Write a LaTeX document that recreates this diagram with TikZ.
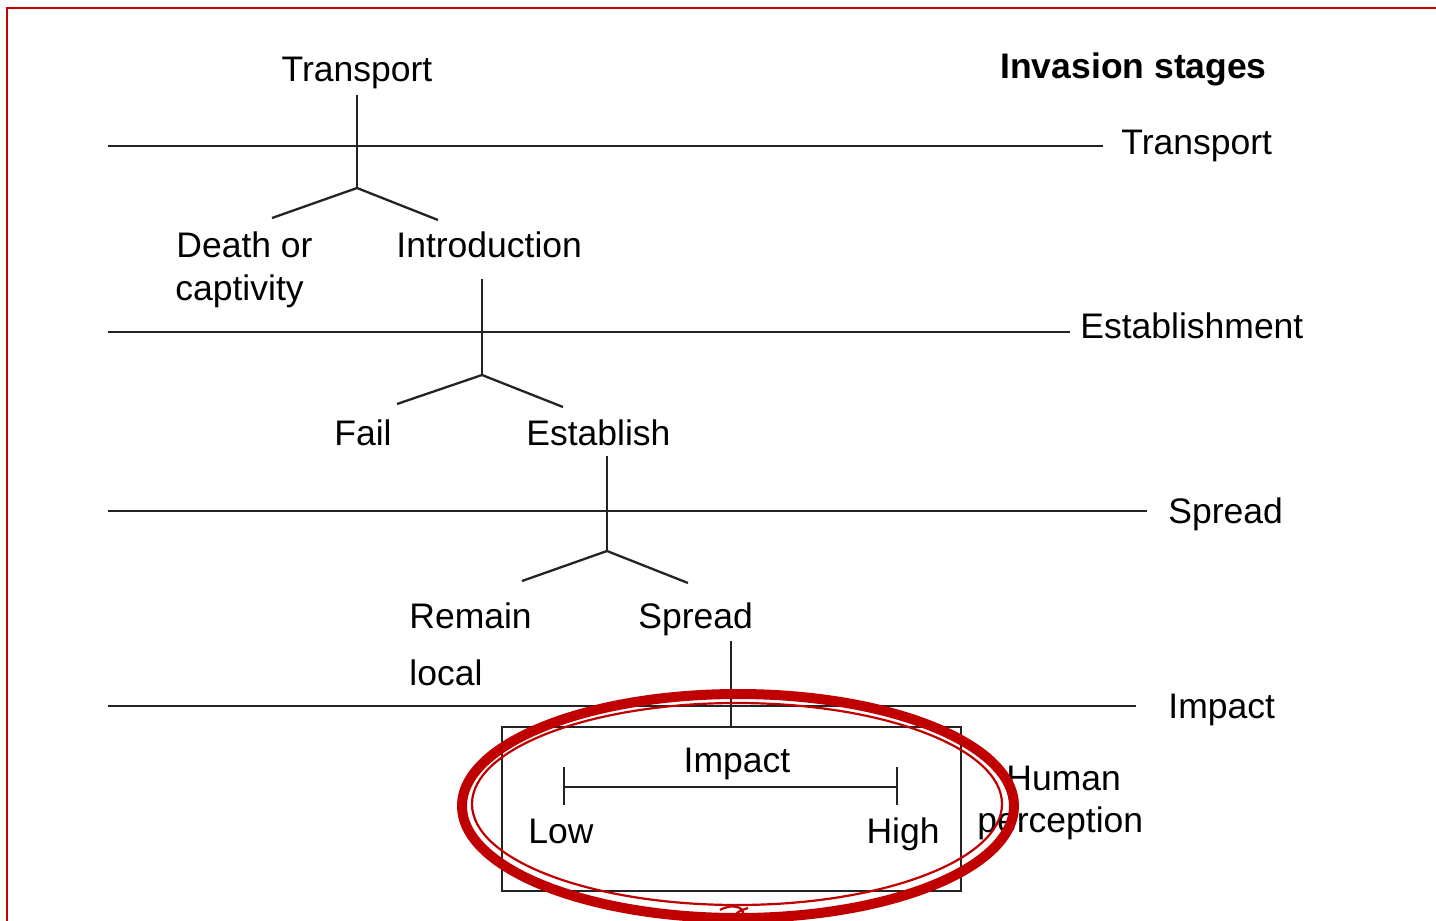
\documentclass[tikz,border=0pt]{standalone}
\usepackage{fontspec}
\setmainfont{Liberation Sans}
\definecolor{inkgray}{RGB}{35,35,35}
\definecolor{penred}{RGB}{192,0,0}
\definecolor{framered}{RGB}{200,0,0}
\begin{document}
\begin{tikzpicture}[x=0.5pt,y=-0.5pt,
  lbl/.style={inner sep=0pt, anchor=base west, font=\fontsize{17.75}{21}\selectfont, text=black},
  rule/.style={line width=1.15pt, draw=inkgray},
  penthick/.style={line width=5pt, draw=penred},
  penthin/.style={line width=1.1pt, draw=penred}]
\useasboundingbox (0,0) rectangle (1436,921);
\clip (0,0) rectangle (1436,921);
\fill[white] (0,0) rectangle (1436,921);

% page frame
\draw[line width=1.1pt, draw=framered] (7,8) rectangle (1460,960);

% stage labels on the right
\node[lbl, font=\fontsize{17.75}{21}\selectfont\bfseries] (title) at (1000,78) {Invasion stages};
\node[lbl] (sTransport) at (1121,154) {Transport};
\node[lbl] (sEstab) at (1080,338) {Establishment};
\node[lbl] (sSpread) at (1168,523) {Spread};
\node[lbl] (sImpact) at (1168,718) {Impact};

% stage boundary lines
\coordinate (l1) at (108,146);
\coordinate (l2) at (108,332);
\coordinate (l3) at (108,511);
\coordinate (l4) at (108,706);
\draw[rule] (l1) -- (1103,146);
\draw[rule] (l2) -- (1070,332);
\draw[rule] (l3) -- (1147,511);
\draw[rule] (l4) -- (1136,706);

% outcome labels along the path
\node[lbl, anchor=base] (tTop) at (357,81) {Transport};
\node[lbl] (death) at (176,257) {Death or};
\node[lbl] (captivity) at (175,300) {captivity};
\node[lbl] (intro) at (396,257) {Introduction};
\node[lbl] (fail) at (334,445) {Fail};
\node[lbl] (estab) at (526,445) {Establish};
\node[lbl] (remain) at (409,628) {Remain};
\node[lbl] (local) at (409,685) {local};
\node[lbl] (spread) at (638,628) {Spread};

% branch points
\coordinate (s1) at (357,95);  \coordinate (a1) at (357,188);
\coordinate (b1l) at (272,218); \coordinate (b1r) at (438,220);
\coordinate (s2) at (482,279); \coordinate (a2) at (482,375);
\coordinate (b2l) at (397,404); \coordinate (b2r) at (563,407);
\coordinate (s3) at (607,456); \coordinate (a3) at (607,551);
\coordinate (b3l) at (522,581); \coordinate (b3r) at (688,583);
\coordinate (s4) at (731,641); \coordinate (a4) at (731,727);

\draw[rule] (s1) -- (a1);
\draw[rule] (b1l) -- (a1) -- (b1r);
\draw[rule] (s2) -- (a2);
\draw[rule] (b2l) -- (a2) -- (b2r);
\draw[rule] (s3) -- (a3);
\draw[rule] (b3l) -- (a3) -- (b3r);
\draw[rule] (s4) -- (a4);

% impact box with its scale
\coordinate (boxNW) at (502,727);
\coordinate (boxSE) at (961,891);
\draw[rule] (boxNW) rectangle (boxSE);
\node[lbl, anchor=base] (impact) at (737,772) {Impact};
\coordinate (lowEnd) at (564,787);
\coordinate (highEnd) at (897,787);
\draw[rule] (lowEnd) -- (highEnd);
\draw[rule] ([yshift=-9pt]lowEnd) -- ([yshift=10pt]lowEnd);
\draw[rule] ([yshift=-9pt]highEnd) -- ([yshift=10pt]highEnd);
\node[lbl] (low) at (528,843) {Low};
\node[lbl, anchor=base east] (high) at (940,843) {High};
\node[lbl] (human) at (1006,790) {Human};
\node[lbl] (perception) at (977,832) {perception};

% hand-drawn red ring
\draw[penthick] (738,806) ellipse [x radius=276, y radius=112];
\draw[penthin] (737,804) ellipse [x radius=265, y radius=101];
\draw[penthin] (720,910) .. controls (734,902) and (748,909) .. (741,916)
  .. controls (735,921) and (728,914) .. (748,908);
\end{tikzpicture}
\end{document}
